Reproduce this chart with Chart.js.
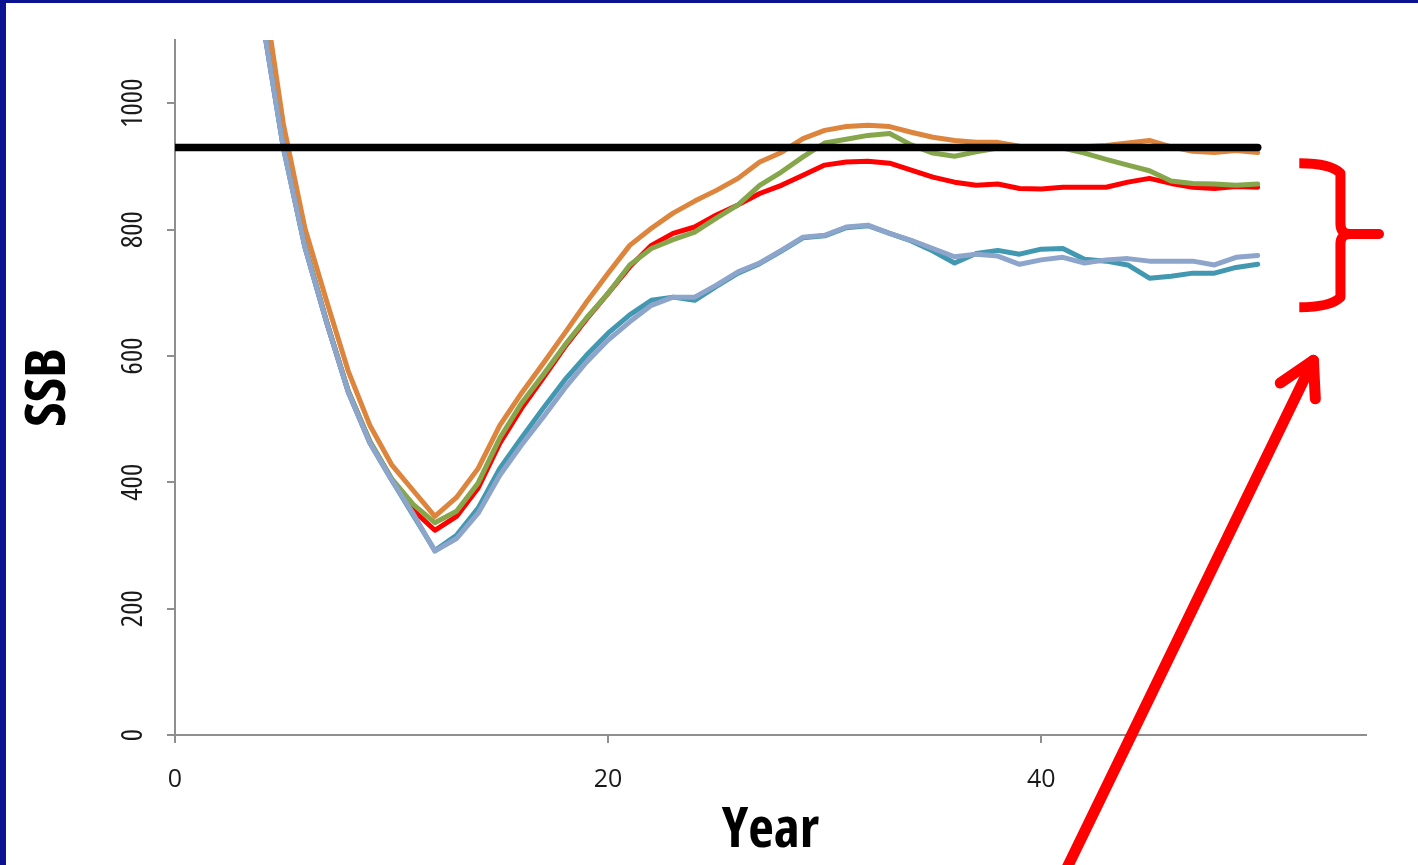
<!DOCTYPE html>
<html><head><meta charset="utf-8">
<script src="https://cdn.jsdelivr.net/npm/chart.js@4.4.1/dist/chart.umd.min.js"></script>
<style>
html,body{margin:0;padding:0;background:#fff;}
#wrap{position:absolute;left:0;top:0;width:1418px;height:865px;box-sizing:border-box;border-left:6px solid #0C1390;border-top:3px solid #0C1390;background:#fff;overflow:hidden;}
#c{display:block;}
</style></head><body>
<div id="wrap"><canvas id="c" width="1412" height="862"></canvas></div>
<script>
// ---- data ----
const years = [4,5,6,7,8,9,10,11,12,13,14,15,16,17,18,19,20,21,22,23,24,25,26,27,28,29,30,31,32,33,34,35,36,37,38,39,40,41,42,43,44,45,46,47,48,49,50];
const ssbLightBlue = [1140,930,772,653,543,462,404,350,291,311,351,411,459,503,549,590,625,654,680,693,693,712,733,747,767,788,791,804,807,794,783,770,757,761,758,745,752,756,747,752,754,750,750,750,744,756,759];
const ssbTeal      = [1140,930,772,653,543,462,404,348,292,316,359,422,470,517,562,601,636,665,688,693,688,710,731,746,766,787,790,803,806,794,782,766,747,762,767,761,769,770,753,750,744,723,726,731,731,740,745];
const ssbOrange    = [1200,968,802,687,576,490,428,387,346,376,422,490,541,588,636,685,731,775,802,826,845,862,881,907,922,944,957,963,965,963,954,946,941,938,938,932,929,929,931,933,937,941,931,924,922,925,922];
const ssbGreen     = [1145,935,775,655,545,465,406,365,336,354,399,470,525,570,617,660,699,744,770,784,796,818,839,870,891,915,937,943,949,952,934,921,916,923,929,930,930,929,921,911,902,893,877,873,872,870,872];
const ssbRed       = [1143,933,774,654,544,464,405,356,324,346,391,462,517,565,614,658,699,741,775,794,804,823,839,857,870,886,902,907,908,905,894,883,875,870,872,865,864,867,867,867,875,881,873,867,865,868,867];
const targetYears  = [0,50];
const targetSSB    = [930,930];
const xTicks = [0,20,40];
const yTicks = [0,200,400,600,800,1000];

const pts = (xs, ys) => xs.map((x,i)=>({x:x, y:ys[i]}));

const annot = {
  id:'annot',
  afterDraw(chart){
    const sx = chart.scales.x, sy = chart.scales.y, ctx = chart.ctx;
    const X = v => sx.getPixelForValue(v), Y = v => sy.getPixelForValue(v);
    ctx.save();
    ctx.strokeStyle = '#FF0000';
    ctx.lineWidth = 10;
    ctx.lineJoin = 'round';
    // brace
    const xl = X(51.92), xs = X(53.82), xt = X(55.6);
    const yt = Y(905), ym = Y(793), yb = Y(677);
    const r = 10;
    ctx.lineCap = 'butt';
    ctx.beginPath();
    ctx.moveTo(xl, yt);
    ctx.quadraticCurveTo(xs - r, yt, xs, yt + r);
    ctx.lineTo(xs, ym - r);
    ctx.quadraticCurveTo(xs, ym, xs + r, ym);
    ctx.moveTo(xs + r, ym);
    ctx.quadraticCurveTo(xs, ym, xs, ym + r);
    ctx.lineTo(xs, yb - r);
    ctx.quadraticCurveTo(xs - r, yb, xl, yb);
    ctx.stroke();
    ctx.lineCap = 'round';
    ctx.beginPath();
    ctx.moveTo(xs + r, ym);
    ctx.lineTo(xt, ym);
    ctx.stroke();
    // arrow
    ctx.lineWidth = 11;
    ctx.beginPath();
    ctx.moveTo(X(40.7), Y(-245));
    ctx.lineTo(X(52.57), Y(593));
    ctx.stroke();
    ctx.beginPath();
    ctx.moveTo(X(51.04), Y(557));
    ctx.lineTo(X(52.57), Y(593));
    ctx.lineTo(X(52.66), Y(532));
    ctx.stroke();
    ctx.restore();
  }
};

const lineDs = (label, data, color, w) => ({label, data, borderColor: color, backgroundColor: color, borderWidth: w, pointRadius: 0, tension: 0, fill: false, borderJoinStyle: 'round', borderCapStyle: 'round'});

new Chart(document.getElementById('c'), {
  type: 'line',
  data: {
    datasets: [
      lineDs('Target', pts(targetYears, targetSSB), '#000000', 7.5),
      lineDs('S5', pts(years, ssbLightBlue), '#8DA5CB', 5),
      lineDs('S4', pts(years, ssbTeal), '#4298B0', 5),
      lineDs('S1', pts(years, ssbOrange), '#DD853D', 5),
      lineDs('S3', pts(years, ssbGreen), '#86A64B', 5),
      lineDs('S2', pts(years, ssbRed), '#FF0000', 5)
    ]
  },
  options: {
    responsive: false,
    animation: false,
    layout: {padding: {left: 0, right: 52, top: 37, bottom: 0}},
    plugins: {legend: {display: false}, tooltip: {enabled: false}},
    scales: {
      x: {
        type: 'linear', min: 0, max: 55,
        afterBuildTicks(s){ s.ticks = xTicks.map(v => ({value: v})); },
        ticks: {autoSkip: false, includeBounds: false, maxRotation: 0, color: '#1a1a1a', padding: 22,
                callback: v => String(v),
                font: {family: "'Open Sans', sans-serif", size: 25}},
        grid: {display: true, drawOnChartArea: false, drawTicks: true, tickLength: 8, color: '#8f8f8f', lineWidth: 2},
        border: {display: true, color: '#8f8f8f', width: 2},
        title: {display: true, text: 'Year', color: '#000',
                font: {family: "'Open Sans', sans-serif", size: 56, weight: 'bold condensed'},
                padding: {top: 0, bottom: 0}},
        afterFit(s){ s.height = 130; }
      },
      y: {
        type: 'linear', min: 0, max: 1100,
        afterBuildTicks(s){ s.ticks = yTicks.map(v => ({value: v})); },
        ticks: {autoSkip: false, includeBounds: false, minRotation: 90, maxRotation: 90, crossAlign: 'center',
                color: '#1a1a1a', padding: 9,
                callback: v => String(v),
                font: {family: "'Open Sans', sans-serif", size: 29, weight: 'normal condensed'}},
        grid: {display: true, drawOnChartArea: false, drawTicks: true, tickLength: 8, color: '#8f8f8f', lineWidth: 2},
        border: {display: true, color: '#8f8f8f', width: 2},
        title: {display: true, text: 'SSB', color: '#000',
                font: {family: "'Open Sans', sans-serif", size: 56, weight: 'bold condensed'},
                padding: {top: 9, bottom: 0}},
        afterFit(s){ s.width = 169; }
      }
    }
  },
  plugins: [annot]
});
</script>
</body></html>
